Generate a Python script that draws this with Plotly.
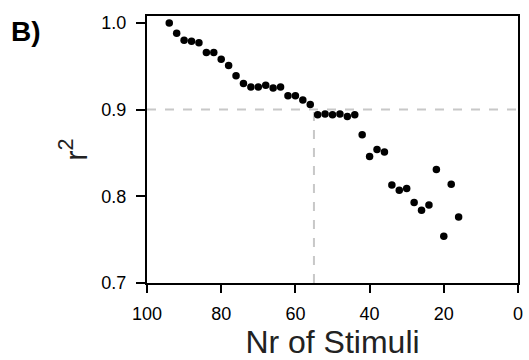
import plotly.graph_objects as go

n_stimuli = [94, 92, 90, 88, 86, 84, 82, 80, 78, 76, 74, 72, 70, 68, 66, 64, 62, 60, 58, 56,
             54, 52, 50, 48, 46, 44, 42, 40, 38, 36, 34, 32, 30, 28, 26, 24, 22, 20, 18, 16]
r2 = [1.000, 0.988, 0.980, 0.979, 0.977, 0.966, 0.966, 0.958, 0.951, 0.939, 0.930, 0.926,
      0.926, 0.928, 0.925, 0.926, 0.916, 0.916, 0.911, 0.906,
      0.894, 0.895, 0.894, 0.895, 0.892, 0.894, 0.871, 0.846, 0.854, 0.851,
      0.813, 0.807, 0.809, 0.793, 0.784, 0.790, 0.831, 0.754, 0.814, 0.776]
threshold_r2 = 0.9
threshold_n = 55
x_ticks = [100, 80, 60, 40, 20, 0]
y_ticks = [0.7, 0.8, 0.9, 1.0]
y_tick_text = ["0.7", "0.8", "0.9", "1.0"]

FONT = "Liberation Sans, Arial, sans-serif"
dash_color = "#c8c8c8"

fig = go.Figure()
fig.add_trace(go.Scatter(x=[100, 0], y=[threshold_r2, threshold_r2], mode="lines",
                         line=dict(color=dash_color, width=2, dash="dash"),
                         hoverinfo="skip", showlegend=False))
fig.add_trace(go.Scatter(x=[threshold_n, threshold_n], y=[0.7, threshold_r2], mode="lines",
                         line=dict(color=dash_color, width=2, dash="dash"),
                         hoverinfo="skip", showlegend=False))
fig.add_trace(go.Scatter(x=n_stimuli, y=r2, mode="markers",
                         marker=dict(color="black", size=7.5),
                         showlegend=False))

fig.update_layout(
    width=529, height=360,
    margin=dict(l=146.5, r=10.5, t=16, b=76.5),
    plot_bgcolor="white", paper_bgcolor="white",
    font=dict(family=FONT, color="black"),
)
fig.add_annotation(text="<b>B)</b>", xref="paper", yref="paper",
                   x=(8 - 146.5) / 372, y=1 + 2 / 267.5,
                   xanchor="left", yanchor="top", showarrow=False,
                   font=dict(size=28, family=FONT, color="black"))

fig.update_xaxes(range=[100, 0], tickvals=x_ticks, ticks="outside", ticklen=8,
                 tickwidth=2, tickcolor="black", showline=True, linewidth=2,
                 linecolor="black", mirror=True, showgrid=False, zeroline=False,
                 ticklabelstandoff=5, automargin=False,
                 tickfont=dict(size=18, family=FONT, color="black"),
                 title=dict(text="Nr of Stimuli", font=dict(size=32, family=FONT, color="#222"),
                            standoff=6))
fig.update_yaxes(range=[0.7, 1.008], tickvals=y_ticks, ticktext=y_tick_text,
                 ticks="outside", ticklen=9, tickwidth=2, tickcolor="black",
                 showline=True, linewidth=2, linecolor="black", mirror=True,
                 showgrid=False, zeroline=False, ticklabelstandoff=6, automargin=False,
                 tickfont=dict(size=18, family=FONT, color="black"),
                 title=dict(text="r<sup>2</sup>", font=dict(size=31, family=FONT, color="#222"),
                            standoff=5))

fig.write_html("out.html")
